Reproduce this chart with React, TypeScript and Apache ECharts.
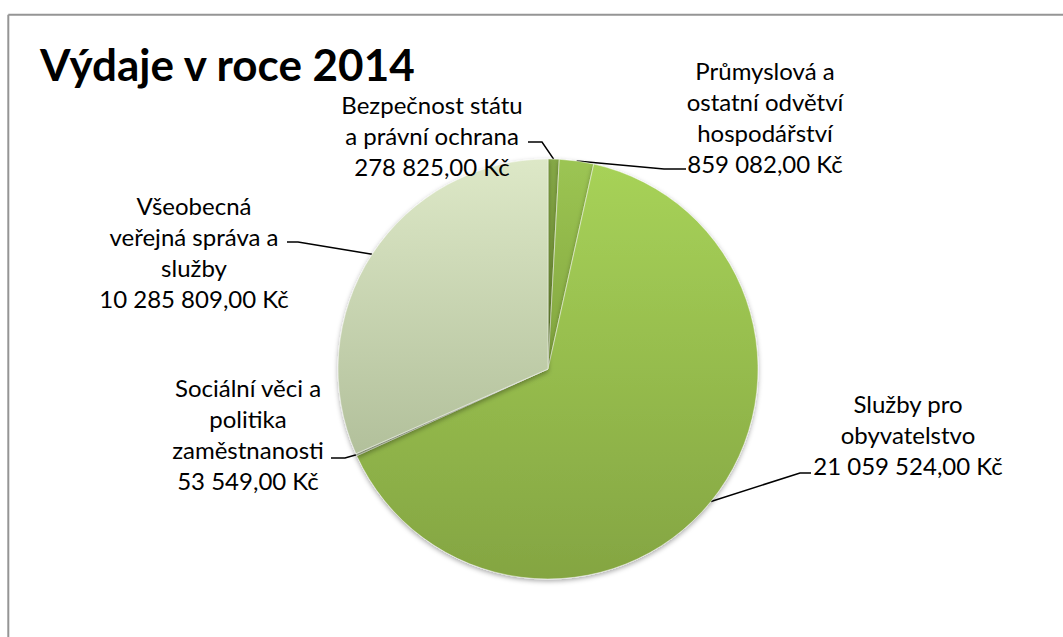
import { useEffect, useRef } from "react";
import * as echarts from "echarts";

// ---- data ----
const categories = [
  "Bezpečnost státu\na právní ochrana",
  "Průmyslová a\nostatní odvětví\nhospodářství",
  "Služby pro\nobyvatelstvo",
  "Sociální věci a\npolitika\nzaměstnanosti",
  "Všeobecná\nveřejná správa a\nslužby",
];
const values = [278825, 859082, 21059524, 53549, 10285809];
const titleText = "Výdaje v roce 2014";
const currency = "Kč";

// ---- styles / layout ----
const FONT = "Lato, 'Open Sans', sans-serif";
const sliceGradients = [
  ["#86a946", "#6c8a32"],
  ["#9cc553", "#83a63f"],
  ["#a7d258", "#84a542"],
  ["#c3d1a9", "#a9b892"],
  ["#dde8c7", "#b2c09b"],
];
const labelPlacement = [
  { x: 432, y: 135, bend: [542, 142], end: [528, 142] },
  { x: 765, y: 117, bend: [664, 169], end: [686, 169] },
  { x: 908, y: 434, bend: [800, 473], end: [811, 473] },
  { x: 248, y: 434, bend: [345, 458], end: [331, 458] },
  { x: 194, y: 252, bend: [298, 242], end: [287, 242] },
];

function fmt(v: number): string {
  const [i, d] = v.toFixed(2).split(".");
  return i.replace(/\B(?=(\d{3})+(?!\d))/g, " ") + "," + d + " " + currency;
}

export default function App() {
  const ref = useRef<HTMLDivElement>(null);
  useEffect(() => {
    if (!ref.current) return;
    const chart = echarts.init(ref.current, undefined, { renderer: "svg" });
    const data = categories.map((name, i) => ({
      name,
      value: values[i],
      itemStyle: {
        color: new echarts.graphic.LinearGradient(0, 0, 0, 1, [
          { offset: 0, color: sliceGradients[i][0] },
          { offset: 1, color: sliceGradients[i][1] },
        ]),
      },
    }));
    chart.setOption({
      animation: false,
      backgroundColor: "#ffffff",
      graphic: [
        {
          type: "line",
          shape: { x1: 8.3, y1: 14.7, x2: 1063, y2: 14.7 },
          style: { stroke: "#959595", lineWidth: 2 },
        },
        {
          type: "line",
          shape: { x1: 8.3, y1: 14.7, x2: 8.3, y2: 637 },
          style: { stroke: "#959595", lineWidth: 2 },
        },
        {
          type: "text",
          x: 40,
          y: 64,
          style: {
            text: titleText,
            fontFamily: FONT,
            fontSize: 44,
            fontWeight: "bold",
            fill: "#000",
            verticalAlign: "middle",
          },
        },
      ],
      series: [
        {
          type: "pie",
          center: [548, 369],
          radius: 210,
          startAngle: 90,
          clockwise: true,
          avoidLabelOverlap: false,
          itemStyle: {
            borderColor: "rgba(255,255,255,0.45)",
            borderWidth: 1,
            shadowBlur: 5,
            shadowColor: "rgba(0,0,0,0.35)",
            shadowOffsetY: 2,
          },
          emphasis: { disabled: true },
          label: {
            show: true,
            position: "outside",
            formatter: (p: any) => p.name + "\n" + fmt(p.value),
            color: "#000",
            fontFamily: FONT,
            fontSize: 24,
            lineHeight: 31,
            align: "center",
          },
          labelLine: {
            show: true,
            length: 10,
            length2: 10,
            smooth: false,
            lineStyle: { color: "#000", width: 1.5 },
          },
          labelLayout: (params: any) => {
            const L = labelPlacement[params.dataIndex];
            const a = params.labelLinePoints ? params.labelLinePoints[0] : null;
            const out: any = {
              x: L.x,
              y: L.y,
              align: "center",
              verticalAlign: "middle",
            };
            if (a) out.labelLinePoints = [a, L.bend, L.end];
            return out;
          },
          data,
        },
      ],
    });
    return () => chart.dispose();
  }, []);
  return (
    <div
      ref={ref}
      style={{ position: "absolute", left: 0, top: 0, width: 1063, height: 637 }}
    />
  );
}
